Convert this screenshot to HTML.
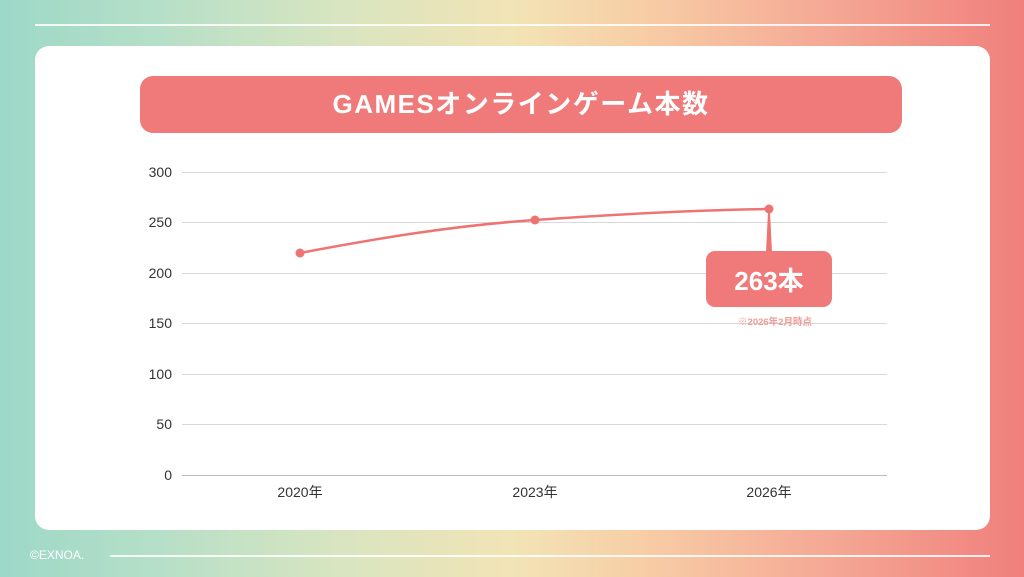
<!DOCTYPE html>
<html><head><meta charset="utf-8"><style>
html,body{margin:0;padding:0}
body{width:1024px;height:577px;position:relative;overflow:hidden;font-family:"Liberation Sans","Noto Sans CJK JP",sans-serif;
background:linear-gradient(90deg,#9dd8c8 0%,#b5dfc8 15%,#d8e5c0 33%,#f2e4b6 50%,#f7cfa6 62%,#f5aa96 80%,#f07f7c 100%);}
.card{position:absolute;left:35px;top:46px;width:955px;height:484px;background:#fff;border-radius:14px}
.title{position:absolute;left:140px;top:76px;width:762px;height:57px;background:#f07a7a;border-radius:13px;color:#fff;font-weight:bold;font-size:26px;letter-spacing:1.5px;text-align:center;line-height:57px}
svg{position:absolute;left:0;top:0}
</style></head><body>
<div style="position:absolute;left:35px;top:24px;width:955px;height:2px;background:#fff;opacity:.85"></div>
<div style="position:absolute;left:110px;top:555px;width:880px;height:2px;background:#fff;opacity:.85"></div>
<div style="position:absolute;left:30px;top:548px;color:#fff;font-size:12px">©EXNOA.</div>
<div class="card"></div>
<div class="title">GAMESオンラインゲーム本数</div>
<svg width="1024" height="577" font-family="Liberation Sans, Noto Sans CJK JP, sans-serif">
<g stroke="#d8d8d8" stroke-width="1">
<line x1="182" x2="887" y1="172.5" y2="172.5"/><line x1="182" x2="887" y1="222.5" y2="222.5"/>
<line x1="182" x2="887" y1="273.5" y2="273.5"/><line x1="182" x2="887" y1="323.5" y2="323.5"/>
<line x1="182" x2="887" y1="374.5" y2="374.5"/><line x1="182" x2="887" y1="424.5" y2="424.5"/>
</g>
<line x1="182" x2="887" y1="475.5" y2="475.5" stroke="#bbb"/>
<g font-size="14" fill="#333" text-anchor="end">
<text x="172" y="177">300</text><text x="172" y="227">250</text><text x="172" y="278">200</text>
<text x="172" y="328">150</text><text x="172" y="379">100</text><text x="172" y="429">50</text><text x="172" y="480">0</text>
</g>
<g font-size="14" fill="#333" text-anchor="middle">
<text x="300" y="497">2020年</text><text x="535" y="497">2023年</text><text x="769" y="497">2026年</text>
</g>
<path d="M300 253 C 380 238, 450 226, 535 220 C 620 214, 700 210, 769 209" fill="none" stroke="#ee7474" stroke-width="2.5"/>
<circle cx="300" cy="253" r="4.5" fill="#ee7474"/><circle cx="535" cy="220" r="4.5" fill="#ee7474"/><circle cx="769" cy="209" r="4.5" fill="#ee7474"/>
<path d="M768 212 L770 212 L772 252 L766 252 Z" fill="#ee7474"/>
<rect x="706" y="251" width="126" height="56" rx="9" fill="#f07a7a"/>
<text x="769" y="290" font-size="26" font-weight="bold" fill="#fff" text-anchor="middle">263本</text>
<text x="775" y="325" font-size="9.5" font-weight="bold" fill="#f29a94" text-anchor="middle">※2026年2月時点</text>
</svg>
</body></html>
